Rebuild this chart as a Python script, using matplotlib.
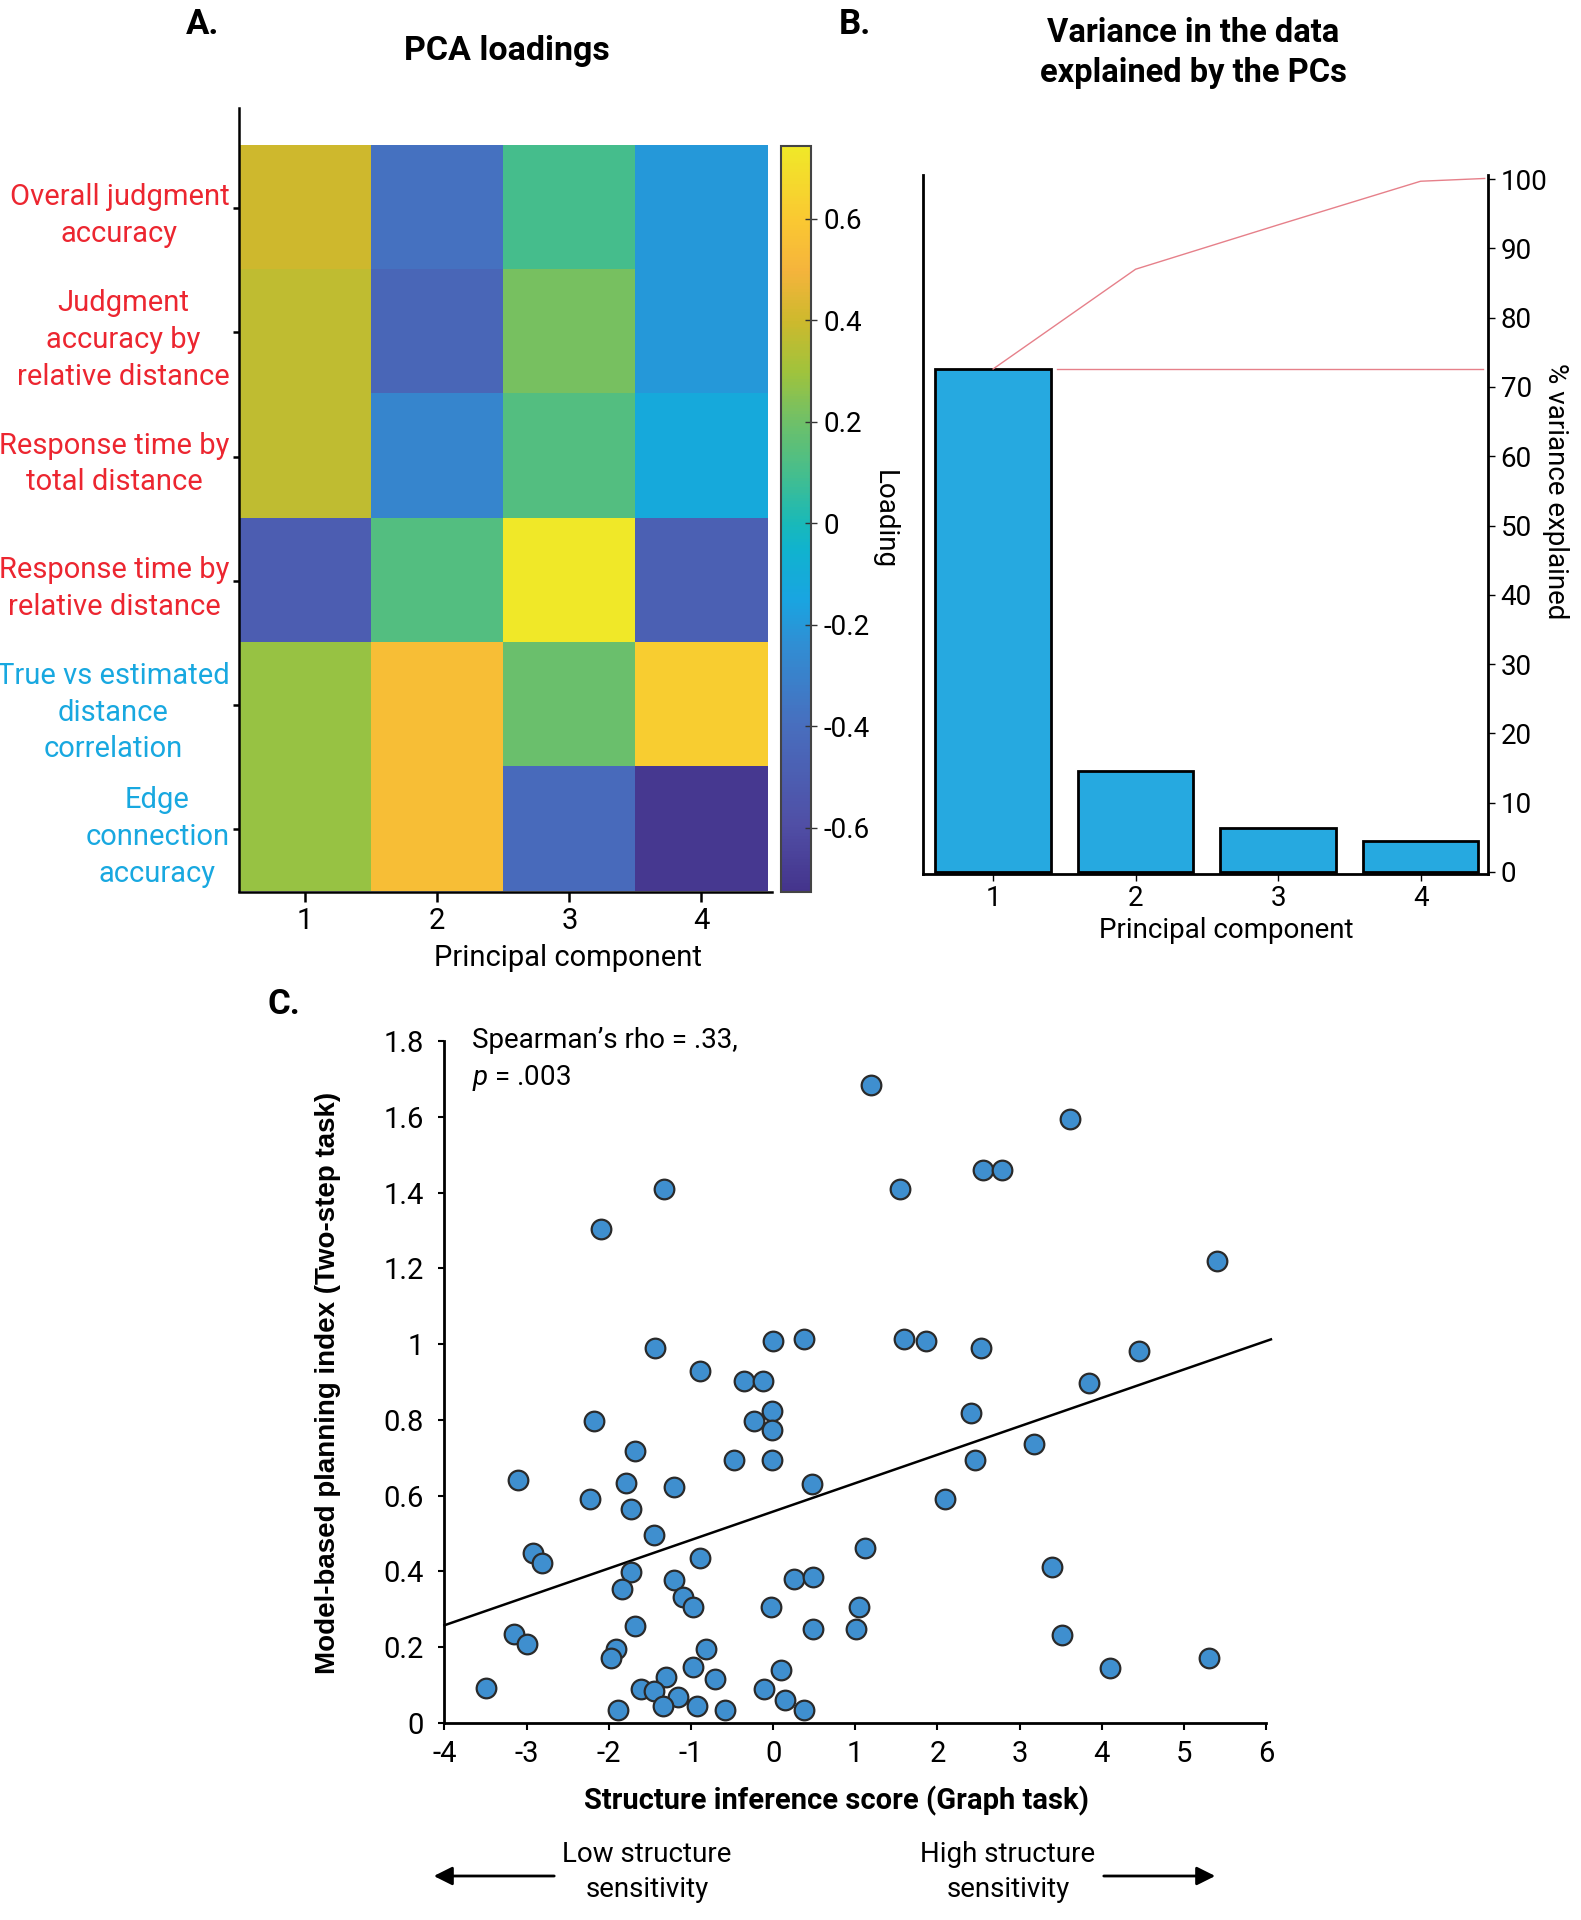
import numpy as np
import matplotlib
matplotlib.use('Agg')
import matplotlib.pyplot as plt
from matplotlib.colors import LinearSegmentedColormap
from matplotlib import font_manager

names = {f.name for f in font_manager.fontManager.ttflist}
FONT = 'Liberation Sans Narrow' if 'Liberation Sans Narrow' in names else 'Roboto'
plt.rcParams['font.family'] = FONT
plt.rcParams['axes.unicode_minus'] = False
plt.rcParams['mathtext.fontset'] = 'custom'
plt.rcParams['mathtext.rm'] = FONT
plt.rcParams['mathtext.it'] = FONT + ':italic'

# ---- panel A: PCA loadings (rows = measures, cols = PCs)
measures = ['Overall judgment\naccuracy',
            'Judgment\naccuracy by\nrelative distance',
            'Response time by\ntotal distance',
            'Response time by\nrelative distance',
            'True vs estimated\ndistance\ncorrelation',
            'Edge\nconnection\naccuracy']
measure_colors = ['#EC2630', '#EC2630', '#EC2630', '#EC2630', '#18A8E0', '#18A8E0']
pcs = [1, 2, 3, 4]
loadings = np.array([
    [0.40, -0.38, 0.10, -0.20],
    [0.37, -0.45, 0.22, -0.20],
    [0.37, -0.28, 0.13, -0.12],
    [-0.50, 0.13, 0.743, -0.48],
    [0.28, 0.55, 0.19, 0.62],
    [0.28, 0.55, -0.42, -0.70],
])
clim = (-0.726, 0.743)
cbar_ticks = [-0.6, -0.4, -0.2, 0, 0.2, 0.4, 0.6]
cbar_labels = ['-0.6', '-0.4', '-0.2', '0', '0.2', '0.4', '0.6']

# ---- panel B: variance explained
var_pct = [72.6, 14.6, 6.3, 4.5]
cum_x = [1, 2, 3, 4, 4.45]
cum_pct = [72.6, 87.0, 93.4, 99.7, 100.1]
pct_ticks = [0, 10, 20, 30, 40, 50, 60, 70, 80, 90, 100]

# ---- panel C: structure inference vs model-based planning
struct_score = [1.19, 3.62, -1.33, 1.55, 2.56, 2.79, -2.09, 5.40, -1.44, 0.00,
                0.38, 1.59, 1.86, 2.53, 4.46, -0.89, -0.35, -0.12, 3.84, -2.18,
                -0.23, -0.01, -0.01, 2.41, -1.68, -0.47, -0.01, 2.46, 3.17, -3.10,
                -2.23, -1.79, -1.21, -1.73, -1.45, 0.47, 2.09, -2.92, -2.81, -1.73,
                -1.84, -1.21, -1.10, -0.98, -0.89, -0.03, 0.26, 0.48, 1.12, 1.05,
                1.01, 0.49, 3.40, 3.52, -1.68, -3.15, -3.00, -1.91, -1.97, -0.82,
                -0.98, -0.71, 0.10, -0.11, -1.30, -1.61, -1.45, -1.16, -1.34, -0.93,
                -0.59, -1.89, 0.14, 0.38, -3.50, 4.10, 5.31]
mb_index = [1.683, 1.595, 1.410, 1.410, 1.460, 1.460, 1.305, 1.220, 0.990, 1.009,
            1.014, 1.014, 1.009, 0.990, 0.981, 0.929, 0.903, 0.903, 0.897, 0.798,
            0.798, 0.824, 0.774, 0.818, 0.718, 0.695, 0.695, 0.694, 0.737, 0.642,
            0.590, 0.633, 0.623, 0.565, 0.497, 0.631, 0.591, 0.448, 0.422, 0.399,
            0.354, 0.378, 0.332, 0.306, 0.436, 0.307, 0.380, 0.386, 0.462, 0.307,
            0.247, 0.249, 0.412, 0.232, 0.256, 0.234, 0.208, 0.195, 0.171, 0.195,
            0.147, 0.117, 0.140, 0.091, 0.122, 0.091, 0.084, 0.068, 0.044, 0.046,
            0.033, 0.033, 0.060, 0.033, 0.092, 0.145, 0.171]
fit_intercept = 0.558
fit_slope = 0.075
fit_range = [-4, 6.06]
x_ticks = [-4, -3, -2, -1, 0, 1, 2, 3, 4, 5, 6]
y_ticks = [0, 0.2, 0.4, 0.6, 0.8, 1, 1.2, 1.4, 1.6, 1.8]
y_ticklabels = ['0', '0.2', '0.4', '0.6', '0.8', '1', '1.2', '1.4', '1.6', '1.8']

# colormap taken off the reference colour bar (parula-like)
cmap = LinearSegmentedColormap.from_list('ref_parula', [
    (0.000, '#44348C'), (0.086, '#504EA5'), (0.222, '#486EBE'),
    (0.324, '#328CD2'), (0.392, '#19A5E1'), (0.460, '#10B3CE'),
    (0.494, '#19B9B9'), (0.562, '#46BE8C'), (0.630, '#6EC069'),
    (0.698, '#A0C33C'), (0.766, '#CDB92D'), (0.834, '#F5B43C'),
    (0.902, '#FAC832'), (1.000, '#F0E828')])

fig = plt.figure(figsize=(15.81, 19.2), dpi=100)
W, H = 1581.0, 1920.0

def fx(px):
    return px / W

def fy(py):
    return 1 - py / H

# ---------------- A
axA = fig.add_axes([fx(239), fy(891.5), fx(771.5 - 239), (891.5 - 108) / H])
im = axA.imshow(loadings, cmap=cmap, vmin=clim[0], vmax=clim[1], aspect='auto',
                interpolation='nearest')
axA.set_xlim(-0.5, 3.53)
axA.set_ylim(5.5, -0.806)
axA.set_xticks(range(4))
axA.set_xticklabels([str(p) for p in pcs], fontsize=21)
axA.set_yticks(range(6))
axA.set_yticklabels(measures, fontsize=21, multialignment='center', linespacing=1.4)
for lab, c in zip(axA.get_yticklabels(), measure_colors):
    lab.set_color(c)
axA.tick_params(axis='x', length=7, width=1.8, pad=4)
axA.tick_params(axis='y', length=4, width=1.8, pad=3)
for s in ['top', 'right']:
    axA.spines[s].set_visible(False)
for s in ['left', 'bottom']:
    axA.spines[s].set_linewidth(1.8)

cax = fig.add_axes([fx(781), fy(891.5), fx(30), (891.5 - 146) / H])
cb = fig.colorbar(im, cax=cax, ticks=cbar_ticks)
cb.ax.set_yticklabels(cbar_labels, fontsize=20)
cb.ax.tick_params(direction='inout', length=8, width=1, pad=5, colors='#333333')
for t in cb.ax.get_yticklabels():
    t.set_color('black')
cb.outline.set_edgecolor('#444444')
cb.outline.set_linewidth(1.5)

fig.text(fx(884), fy(520), 'Loading', rotation=270, ha='center', va='center', fontsize=20)
fig.text(fx(568), fy(958), 'Principal component', ha='center', va='center', fontsize=21)
fig.text(fx(507), fy(51), 'PCA loadings', ha='center', va='center', fontsize=24.5,
         fontweight='bold')
fig.text(fx(203), fy(25), 'A.', ha='center', va='center', fontsize=25, fontweight='bold')

# ---------------- B
axB = fig.add_axes([fx(923), fy(874), fx(1488 - 923), (874 - 175) / H])
axB.bar(pcs, var_pct, width=0.81, color='#26A9E0', edgecolor='black', linewidth=2)
axB.plot(cum_x, cum_pct, color='#E6808A', lw=1)
axB.plot([1.45, 4.44], [var_pct[0], var_pct[0]], color='#E6808A', lw=1)
axB.set_xlim(0.508, 4.473)
axB.set_ylim(-0.3, 100.6)
axB.set_xticks(pcs)
axB.set_xticklabels([str(p) for p in pcs], fontsize=20)
axB.yaxis.tick_right()
axB.set_yticks(pct_ticks)
axB.set_yticklabels([str(t) for t in pct_ticks], fontsize=20)
axB.tick_params(axis='y', left=False, right=True, length=5, width=1, pad=4)
axB.tick_params(axis='x', length=5, width=1, pad=3)
axB.spines['top'].set_visible(False)
for s in ['left', 'right', 'bottom']:
    axB.spines[s].set_linewidth(2)
fig.text(fx(1555), fy(491), '% variance explained', rotation=270, ha='center',
         va='center', fontsize=20)
fig.text(fx(1226), fy(931), 'Principal component', ha='center', va='center', fontsize=20)
fig.text(fx(1193), fy(53), 'Variance in the data\nexplained by the PCs', ha='center',
         va='center', fontsize=23.5, fontweight='bold', linespacing=1.3)
fig.text(fx(855), fy(25), 'B.', ha='center', va='center', fontsize=25, fontweight='bold')

# ---------------- C
axC = fig.add_axes([fx(444.5), fy(1723), fx(1266 - 444.5), (1723 - 1041) / H])
axC.scatter(struct_score, mb_index, s=200, facecolor='#3F8FCF', edgecolor='#2A2A2A',
            linewidth=1.6, zorder=3)
fit_x = np.array(fit_range)
axC.plot(fit_x, fit_intercept + fit_slope * fit_x, color='black', lw=1.8, zorder=2,
         clip_on=False)
axC.set_xlim(-4, 6)
axC.set_ylim(0, 1.8)
axC.set_xticks(x_ticks)
axC.set_xticklabels([str(t) for t in x_ticks], fontsize=21)
axC.set_yticks(y_ticks)
axC.set_yticklabels(y_ticklabels, fontsize=21)
axC.tick_params(axis='y', length=4, width=1.5, pad=11)
axC.tick_params(axis='x', length=5, width=1.5, pad=7)
for s in ['top', 'right']:
    axC.spines[s].set_visible(False)
for s in ['left', 'bottom']:
    axC.spines[s].set_linewidth(2)
axC.text(0.033, 1.0, 'Spearman\u2019s rho = .33,', transform=axC.transAxes,
         ha='left', va='center', fontsize=20)
axC.text(0.033, 0.946, r'$p$ = .003', transform=axC.transAxes,
         ha='left', va='center', fontsize=20)

fig.text(fx(328), fy(1383), 'Model-based planning index (Two-step task)', rotation=90,
         ha='center', va='center', fontsize=20, fontweight='bold',
         family='Liberation Sans')
fig.text(fx(836), fy(1801), 'Structure inference score (Graph task)', ha='center',
         va='center', fontsize=21, fontweight='bold')
fig.text(fx(284), fy(1004), 'C.', ha='center', va='center', fontsize=25, fontweight='bold')

fig.text(fx(647), fy(1872), 'Low structure\nsensitivity', ha='center', va='center',
         fontsize=20, linespacing=1.4)
fig.text(fx(1008), fy(1872), 'High structure\nsensitivity', ha='center', va='center',
         fontsize=20, linespacing=1.4)
fig.add_artist(matplotlib.patches.FancyArrowPatch(
    (fx(557), fy(1876)), (fx(431), fy(1876)), transform=fig.transFigure,
    arrowstyle='-|>', mutation_scale=28, lw=2, color='black'))
fig.add_artist(matplotlib.patches.FancyArrowPatch(
    (fx(1101), fy(1876)), (fx(1218), fy(1876)), transform=fig.transFigure,
    arrowstyle='-|>', mutation_scale=28, lw=2, color='black'))

fig.savefig('out.png', dpi=100, facecolor='white')
